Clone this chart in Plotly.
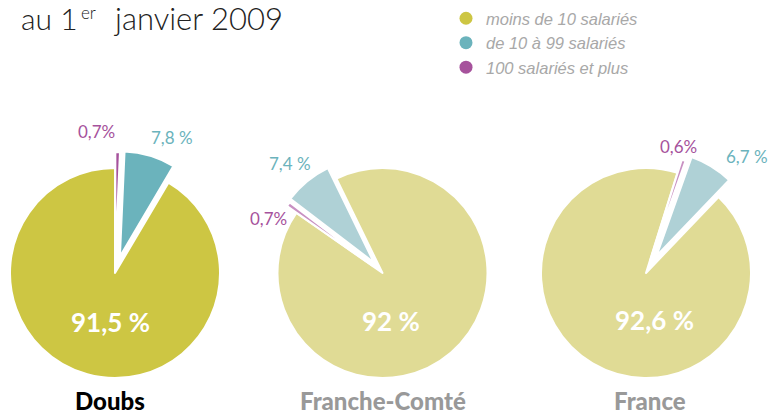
import math
import plotly.graph_objects as go

# ---------------- data ----------------
categories = ["moins de 10 salariés", "de 10 à 99 salariés", "100 salariés et plus"]
regions = ["Doubs", "Franche-Comté", "France"]
doubs_values = [91.5, 7.8, 0.7]
franche_comte_values = [92, 7.4, 0.7]
france_values = [92.6, 6.7, 0.6]
title_parts = ["au 1", "er", "janvier 2009"]

# ---------------- layout / style ----------------
W, H = 770, 414
R = 105
strong_colors = ["#CDC643", "#6BB3BC", "#A6529C"]
light_colors = ["#E0DB95", "#AFD1D6", "#C890C2"]
label_colors = ["#FFFFFF", "#6BB3BC", "#A6529C"]
pct_suffix = [" %", " %", "%"]
title_layout = [(19, 18, 30), (79, 12, 17), (112, 18, 31)]  # left x, middle y, font size

region_style = [
    dict(values=doubs_values, cx=115, cy=273, rotation=0, order=[2, 1, 0],
         pulls=[0, 0.165, 0.15], colors=strong_colors, name_color="#000000", name_x=110,
         label_pos=[(110, 322), (172, 137), (96, 131)]),
    dict(values=franche_comte_values, cx=382.5, cy=273, rotation=-26, order=[0, 2, 1],
         pulls=[0, 0.13, 0.11], colors=light_colors, name_color="#999999", name_x=382.5,
         label_pos=[(391, 321), (290, 163), (268, 218)]),
    dict(values=france_values, cx=646, cy=273, rotation=17.4, order=[2, 1, 0],
         pulls=[0, 0.19, 0.13], colors=light_colors, name_color="#999999", name_x=650,
         label_pos=[(654, 320), (746.5, 156.5), (678, 146.5)]),
]


def domain_for(cx, cy, r):
    return dict(x=[(cx - r) / W, (cx + r) / W], y=[1 - (cy + r) / H, 1 - (cy - r) / H])


def fr(v):
    return ("%g" % v).replace(".", ",")


fig = go.Figure()

for reg_name, st in zip(regions, region_style):
    vals = [st["values"][i] for i in st["order"]]
    labs = [categories[i] for i in st["order"]]
    total = sum(vals)
    # main (unpulled) slice
    cols = [st["colors"][i] if st["pulls"][i] == 0 else "rgba(0,0,0,0)" for i in st["order"]]
    lw = [2 if st["pulls"][i] == 0 else 0 for i in st["order"]]
    fig.add_trace(go.Pie(
        values=vals, labels=labs, sort=False,
        direction="clockwise", rotation=st["rotation"],
        marker=dict(colors=cols, line=dict(color="white", width=lw)),
        textinfo="none", hoverinfo="skip", showlegend=False,
        domain=domain_for(st["cx"], st["cy"], R)))
    # pulled slices, each moved out along its bisector
    cum = 0
    for i in st["order"]:
        v = st["values"][i]
        if st["pulls"][i] > 0:
            mid = math.radians(st["rotation"] + 360 * (cum + v / 2) / total)
            d = st["pulls"][i] * R
            cx2 = st["cx"] + d * math.sin(mid)
            cy2 = st["cy"] - d * math.cos(mid)
            cols = [st["colors"][j] if j == i else "rgba(0,0,0,0)" for j in st["order"]]
            lw = [2 if j == i else 0 for j in st["order"]]
            fig.add_trace(go.Pie(
                values=vals, labels=labs, sort=False,
                direction="clockwise", rotation=st["rotation"],
                marker=dict(colors=cols, line=dict(color="white", width=lw)),
                textinfo="none", hoverinfo="skip", showlegend=False,
                domain=domain_for(cx2, cy2, R)))
        cum += v

# legend entries (circle markers)
for cat, col in zip(categories, strong_colors):
    fig.add_trace(go.Scatter(x=[None], y=[None], mode="markers", name=cat, legendgroup=cat,
                             marker=dict(color=col, size=13, symbol="circle"), hoverinfo="skip"))

annotations = []
for part, (tx, ty, ts) in zip(title_parts, title_layout):
    annotations.append(dict(text=part, x=tx / W, y=1 - ty / H, xref="paper", yref="paper",
                            xanchor="left", yanchor="middle", showarrow=False,
                            font=dict(family="Lato", size=ts, color="#222222", weight=300)))
for reg_name, st in zip(regions, region_style):
    for i, (px, py) in enumerate(st["label_pos"]):
        v = st["values"][i]
        if i == 0:
            font = dict(family="Lato", size=26, color=label_colors[0], weight=700)
        else:
            font = dict(family="Lato", size=17, color=label_colors[i], weight=400)
        annotations.append(dict(text=fr(v) + pct_suffix[i], x=px / W, y=1 - py / H,
                                xref="paper", yref="paper", xanchor="center", yanchor="middle",
                                showarrow=False, font=font))
    annotations.append(dict(text=reg_name, x=st["name_x"] / W, y=1 - 400 / H,
                            xref="paper", yref="paper", xanchor="center", yanchor="middle",
                            showarrow=False,
                            font=dict(family="Lato", size=24, color=st["name_color"], weight=900)))

fig.update_layout(
    width=W, height=H, margin=dict(l=0, r=0, t=0, b=0),
    paper_bgcolor="white", plot_bgcolor="rgba(0,0,0,0)",
    xaxis=dict(visible=False), yaxis=dict(visible=False),
    annotations=annotations,
    legend=dict(x=446 / W, y=1 - 1 / H, xanchor="left", yanchor="top",
                traceorder="grouped", tracegroupgap=0, bgcolor="rgba(0,0,0,0)",
                font=dict(family="Liberation Sans", size=16.5, color="#A8A8A8", style="italic")),
    showlegend=True,
)

fig.write_html("out.html", config={"displayModeBar": False},
               post_script="document.body.style.margin='0';")
